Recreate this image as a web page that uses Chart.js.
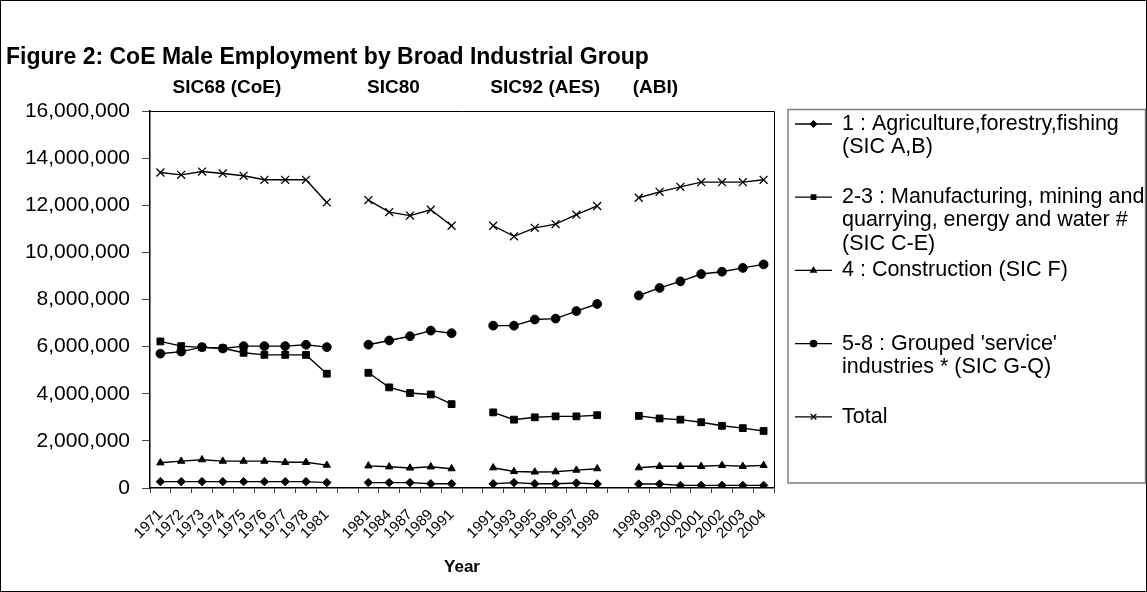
<!DOCTYPE html>
<html>
<head>
<meta charset="utf-8">
<script src="https://cdn.jsdelivr.net/npm/chart.js@4.4.1/dist/chart.umd.min.js"></script>
<style>
  html, body { margin: 0; padding: 0; background: #fff; }
  #wrap { width: 1147px; height: 592px; position: relative; }
</style>
</head>
<body>
<div id="wrap"><canvas id="chart"></canvas></div>
<script>
// Categories (blank entries separate the four survey series)
const years = ['1971','1972','1973','1974','1975','1976','1977','1978','1981','',
  '1981','1984','1987','1989','1991','',
  '1991','1993','1995','1996','1997','1998','',
  '1998','1999','2000','2001','2002','2003','2004'];

const agriculture = [270000,270000,270000,270000,270000,270000,270000,270000,230000,null,
  230000,230000,230000,180000,180000,null,
  180000,230000,180000,180000,210000,170000,null,
  170000,170000,110000,110000,110000,110000,110000];

const manufacturing = [6220000,6020000,5970000,5930000,5740000,5650000,5650000,5650000,4850000,null,
  4890000,4270000,4030000,3970000,3560000,null,
  3210000,2900000,3000000,3040000,3040000,3090000,null,
  3060000,2950000,2900000,2790000,2640000,2540000,2420000];

const construction = [1070000,1140000,1200000,1140000,1140000,1140000,1090000,1090000,970000,null,
  940000,900000,850000,900000,820000,null,
  860000,700000,680000,690000,760000,820000,null,
  860000,920000,920000,920000,960000,920000,960000];

const services = [5700000,5790000,5980000,5920000,6020000,6020000,6020000,6080000,5980000,null,
  6080000,6260000,6440000,6680000,6570000,null,
  6890000,6890000,7150000,7190000,7510000,7810000,null,
  8170000,8490000,8770000,9080000,9180000,9340000,9490000];

const total = [13390000,13290000,13430000,13350000,13250000,13080000,13080000,13080000,12120000,null,
  12220000,11710000,11560000,11810000,11130000,null,
  11130000,10680000,11040000,11200000,11600000,11970000,null,
  12320000,12570000,12780000,12980000,12980000,12980000,13080000];

const seriesNames = [
  ['1 : Agriculture,forestry,fishing', '(SIC A,B)'],
  ['2-3 : Manufacturing, mining and', 'quarrying, energy and water #', '(SIC C-E)'],
  ['4 : Construction (SIC F)'],
  ["5-8 : Grouped 'service'", 'industries * (SIC G-Q)'],
  ['Total']
];
const groupLabels = ['SIC68 (CoE)', 'SIC80', 'SIC92 (AES)', '(ABI)'];
const titleText = 'Figure 2: CoE Male Employment by Broad Industrial Group';
const xTitle = 'Year';

const FONT = 'Arial, "Liberation Sans", Helvetica, sans-serif';

function series(label, data, style, radius, legendRadius) {
  return {
    label: label.join(' '),
    data: data,
    borderColor: '#000',
    backgroundColor: '#000',
    borderWidth: 1.4,
    pointStyle: style,
    pointRadius: radius,
    pointBorderWidth: style === 'crossRot' ? 1.3 : 1,
    pointBackgroundColor: '#000',
    pointBorderColor: '#000',
    spanGaps: false,
    tension: 0,
    legendRadius: legendRadius
  };
}

const datasets = [
  series(seriesNames[0], agriculture, 'rectRot', 4.2, 3),
  series(seriesNames[1], manufacturing, 'rect', 4.8, 3.2),
  series(seriesNames[2], construction, 'triangle', 4.2, 3.2),
  series(seriesNames[3], services, 'circle', 4.4, 3.2),
  series(seriesNames[4], total, 'crossRot', 5.6, 4)
];

// Extra drawing: frame, title, group headers, legend box
const decorations = {
  id: 'decorations',
  afterDraw(chart) {
    const ctx = chart.ctx;
    const area = chart.chartArea;
    const x = chart.scales.x;
    ctx.save();

    // outer border
    ctx.strokeStyle = '#000';
    ctx.lineWidth = 1;
    ctx.strokeRect(0.5, 0.5, chart.width - 1, chart.height - 1);

    // plot frame top and right
    ctx.beginPath();
    ctx.moveTo(area.left, area.top + 0.5);
    ctx.lineTo(area.right + 0.5, area.top + 0.5);
    ctx.lineTo(area.right + 0.5, area.bottom);
    ctx.stroke();

    // title
    ctx.fillStyle = '#000';
    ctx.font = 'bold 23px ' + FONT;
    ctx.textAlign = 'left';
    ctx.textBaseline = 'alphabetic';
    ctx.fillText(titleText, 6, 64);

    // group headers
    ctx.font = 'bold 19px ' + FONT;
    ctx.textAlign = 'center';
    const groupAt = [3.2, 11.2, 18.5, 23.8];
    groupLabels.forEach((g, i) => {
      ctx.fillText(g, x.getPixelForValue(groupAt[i]), 93);
    });

    // x axis title
    ctx.font = 'bold 17px ' + FONT;
    ctx.fillText(xTitle, (area.left + area.right) / 2, 572);

    // legend
    ctx.strokeStyle = '#808080';
    ctx.lineWidth = 1.5;
    ctx.strokeRect(788, 109.5, 357.5, 373.5);
    ctx.font = '21.5px ' + FONT;
    ctx.textAlign = 'left';
    ctx.textBaseline = 'middle';
    chart.data.datasets.forEach((ds, i) => {
      const y0 = 124 + i * 73.2;
      ctx.strokeStyle = '#000';
      ctx.lineWidth = 1.3;
      ctx.beginPath();
      ctx.moveTo(795, y0);
      ctx.lineTo(832, y0);
      ctx.stroke();
      ctx.fillStyle = '#000';
      Chart.helpers.drawPoint(ctx, {
        pointStyle: ds.pointStyle, radius: ds.legendRadius, rotation: 0,
        borderWidth: ds.pointStyle === 'crossRot' ? 1 : 0.5
      }, 813.5, y0);
      seriesNames[i].forEach((line, j) => {
        ctx.fillText(line, 842, y0 + j * 23.2);
      });
    });
    ctx.restore();
  }
};

new Chart(document.getElementById('chart'), {
  type: 'line',
  data: { labels: years, datasets: datasets },
  plugins: [decorations],
  options: {
    responsive: true,
    maintainAspectRatio: false,
    animation: false,
    devicePixelRatio: 1,
    layout: { autoPadding: false, padding: { left: 10, top: 111, right: 373, bottom: 0 } },
    plugins: { legend: { display: false }, tooltip: { enabled: false }, title: { display: false } },
    scales: {
      x: {
        offset: true,
        grid: { offset: true, drawOnChartArea: false, drawTicks: true, tickLength: 5, color: '#444', lineWidth: 1 },
        border: { display: true, color: '#000', width: 1.5 },
        ticks: { autoSkip: false, maxRotation: 45, minRotation: 45, padding: 13,
                 color: '#000', font: { family: FONT, size: 15 } },
        afterFit(scale) { scale.height = 104; }
      },
      y: {
        min: 0, max: 16000000,
        grid: { drawOnChartArea: false, drawTicks: true, tickLength: 8, color: '#444' },
        border: { display: true, color: '#000', width: 1.5 },
        ticks: { stepSize: 2000000, padding: 12, color: '#000', font: { family: FONT, size: 21 },
                 callback: v => v.toLocaleString('en-US') },
        afterFit(scale) { scale.width = 140; }
      }
    }
  }
});
</script>
</body>
</html>
